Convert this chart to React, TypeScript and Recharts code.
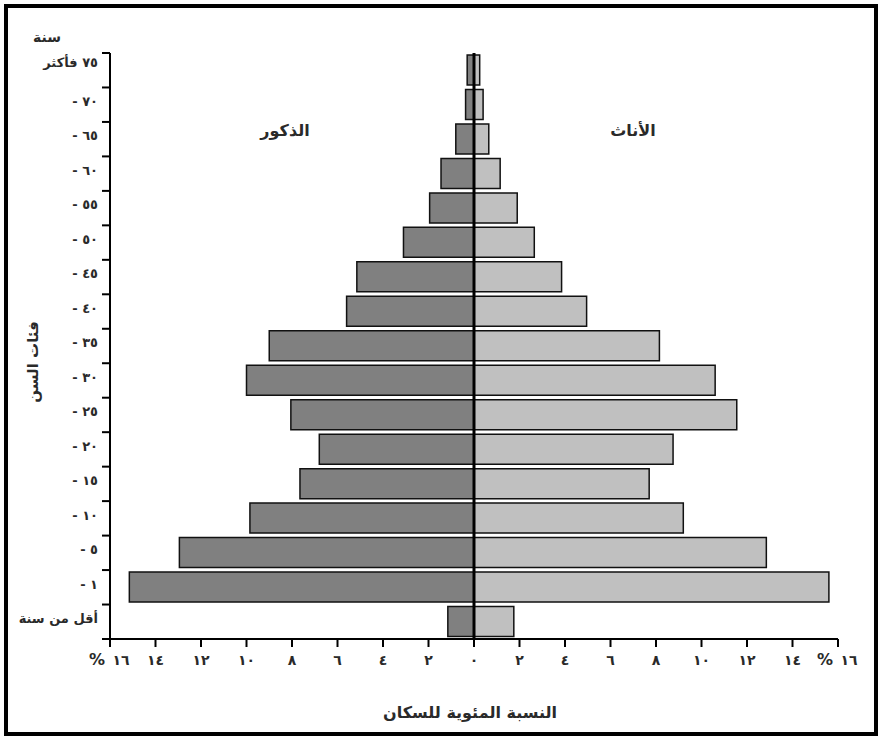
import React from 'react';
import { BarChart, Bar, XAxis, YAxis, ReferenceLine } from 'recharts';

// age groups, top of the pyramid first
const ageGroups = [
  '٧٥ فأكثر', '- ٧٠', '- ٦٥', '- ٦٠', '- ٥٥', '- ٥٠', '- ٤٥', '- ٤٠', '- ٣٥',
  '- ٣٠', '- ٢٥', '- ٢٠', '- ١٥', '- ١٠', '- ٥', '- ١', 'أقل من سنة',
];
const malePct = [0.3, 0.37, 0.8, 1.45, 1.95, 3.1, 5.15, 5.6, 9.0, 10.0, 8.05, 6.8, 7.65, 9.85, 12.95, 15.15, 1.15];
const femalePct = [0.25, 0.4, 0.65, 1.15, 1.9, 2.65, 3.85, 4.95, 8.15, 10.6, 11.55, 8.75, 7.7, 9.2, 12.85, 15.6, 1.75];
const xTicks = [-16, -14, -12, -10, -8, -6, -4, -2, 0, 2, 4, 6, 8, 10, 12, 14, 16];

const data = ageGroups.map((age, i) => ({ age, male: -malePct[i], female: femalePct[i] }));

const W = 881;
const H = 740;
const MARGIN = { top: 53, right: 43, bottom: 61, left: 10 };
const X_AXIS_H = 40;
const TICK = 8;
const TICK_GAP = 2;

const FONT = '"DejaVu Sans", sans-serif';
const INK = '#2a2a2a';
const toArabicDigits = (n: number) => String(n).replace(/[0-9]/g, (d) => '٠١٢٣٤٥٦٧٨٩'[Number(d)]);

const XTick = (props: any) => {
  const { x, y, payload } = props;
  const v = Math.abs(payload.value);
  if (v === 16) {
    return (
      <g>
        <text x={x + 11} y={y + 16} textAnchor="middle" fontSize={14} fontWeight="bold" fontFamily={FONT} fill={INK}>{toArabicDigits(v)}</text>
        <text x={x - 13} y={y + 16} textAnchor="middle" fontSize={16} fontWeight="bold" fontFamily={FONT} fill={INK}>%</text>
      </g>
    );
  }
  return (
    <text x={x} y={y + 16} textAnchor="middle" fontSize={14} fontWeight="bold" fontFamily={FONT} fill={INK}>{toArabicDigits(v)}</text>
  );
};

// category label at the band centre, tick marks on the band edges
const YTick = (props: any) => {
  const { x, y, payload, index, visibleTicksCount } = props;
  const plotH = H - MARGIN.top - MARGIN.bottom - X_AXIS_H;
  const band = plotH / (visibleTicksCount || ageGroups.length);
  const axisX = x + TICK + TICK_GAP;
  const lift = index === 0 ? -5 : 0;
  return (
    <g>
      <line x1={axisX - TICK} x2={axisX} y1={y - band / 2} y2={y - band / 2} stroke="#000" strokeWidth={2} />
      {index === ageGroups.length - 1 && (
        <line x1={axisX - TICK} x2={axisX} y1={y + band / 2} y2={y + band / 2} stroke="#000" strokeWidth={2} />
      )}
      <text x={x - 2} y={y + lift} dy="0.1em" textAnchor="end" fontSize={13} fontWeight="bold" fontFamily={FONT} fill={INK}>{payload.value}</text>
    </g>
  );
};

export default function App() {
  return (
    <div style={{ position: 'absolute', left: 0, top: 0, width: W, height: H, background: '#fff' }}>
      <div style={{ position: 'absolute', left: 4, top: 4, width: 874, height: 732, border: '4px solid #000', boxSizing: 'border-box' }} />
      <div style={{ position: 'absolute', left: 0, top: 0 }}>
        <BarChart
          width={W}
          height={H}
          data={data}
          layout="vertical"
          stackOffset="sign"
          barCategoryGap={2}
          margin={MARGIN}
        >
          <YAxis
            type="category"
            dataKey="age"
            width={100}
            axisLine={{ stroke: '#000', strokeWidth: 2 }}
            tickLine={false}
            tickSize={TICK}
            tickMargin={TICK_GAP}
            tick={<YTick />}
            interval={0}
          />
          <XAxis
            type="number"
            domain={[-16, 16]}
            ticks={xTicks}
            interval={0}
            height={X_AXIS_H}
            tickSize={TICK}
            tick={<XTick />}
            axisLine={{ stroke: '#000', strokeWidth: 2 }}
            tickLine={{ stroke: '#000', strokeWidth: 2 }}
          />
          <Bar dataKey="male" stackId="p" fill="#808080" stroke="#111" strokeWidth={1.5} isAnimationActive={false} />
          <Bar dataKey="female" stackId="p" fill="#c0c0c0" stroke="#111" strokeWidth={1.5} isAnimationActive={false} />
          <ReferenceLine x={0} stroke="#000" strokeWidth={3} />
        </BarChart>
      </div>
      <svg width={W} height={H} style={{ position: 'absolute', left: 0, top: 0, pointerEvents: 'none' }}>
        <text x={47} y={42} textAnchor="middle" fontSize={14} fontWeight="bold" fontFamily={FONT} fill={INK}>سنة</text>
        <text x={285} y={136} textAnchor="middle" fontSize={16} fontWeight="bold" fontFamily={FONT} fill={INK}>الذكور</text>
        <text x={633} y={136} textAnchor="middle" fontSize={16} fontWeight="bold" fontFamily={FONT} fill={INK}>الأناث</text>
        <text x={470} y={718} textAnchor="middle" fontSize={16} fontWeight="bold" fontFamily={FONT} fill={INK}>النسبة المئوية للسكان</text>
        <text x={0} y={0} transform="translate(38 362) rotate(-90)" textAnchor="middle" fontSize={15} fontWeight="bold" fontFamily={FONT} fill={INK}>فئات السن</text>
      </svg>
    </div>
  );
}
